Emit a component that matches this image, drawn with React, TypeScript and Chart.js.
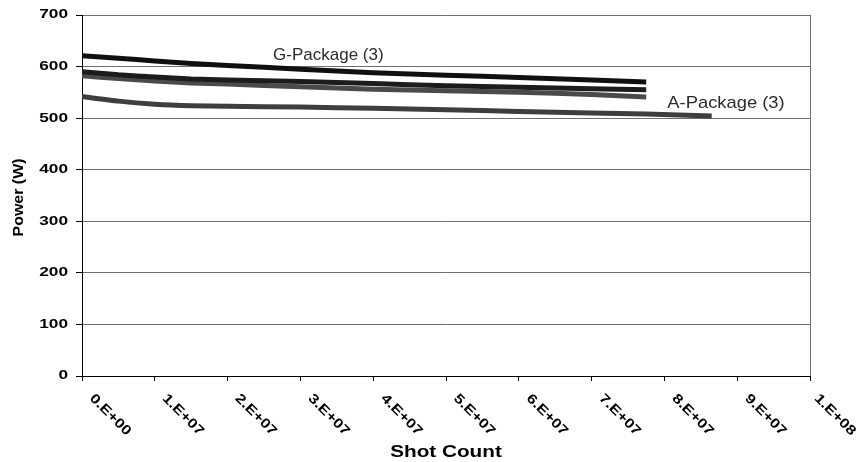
import { useEffect, useRef } from "react";
import { Chart, registerables } from "chart.js";

Chart.register(...registerables);

// Shot count (x) positions and power (W) values
const gTopX = [0, 5e6, 1e7, 1.5e7, 2e7, 3e7, 4e7, 5e7, 6e7, 7e7, 7.75e7];
const gTopY = [621, 616, 611, 606, 602, 595, 588, 583, 579, 574, 570];

const gMidX = [0, 5e6, 1e7, 1.5e7, 2e7, 3e7, 4e7, 5e7, 6e7, 7e7, 7.75e7];
const gMidY = [590, 584, 580, 576, 574, 571, 567, 563, 560, 557, 555];

const aUpX = [0, 5e6, 1e7, 1.5e7, 2e7, 3e7, 4e7, 5e7, 6e7, 7e7, 7.75e7];
const aUpY = [582, 577, 572, 568, 566, 561, 556, 553, 550, 546, 541];

const aLowX = [0, 5e6, 1e7, 1.5e7, 2e7, 3e7, 4e7, 5e7, 6e7, 7e7, 7.75e7, 8.65e7];
const aLowY = [542, 533, 527, 524, 523, 521.5, 519, 516.5, 513, 510, 508, 504];

const xTickLabels = [
  "0.E+00", "1.E+07", "2.E+07", "3.E+07", "4.E+07", "5.E+07",
  "6.E+07", "7.E+07", "8.E+07", "9.E+07", "1.E+08",
];
const yTickLabels = ["0", "100", "200", "300", "400", "500", "600", "700"];

const annotationTexts = ["G-Package (3)", "A-Package (3)"];
const annotationX = [2.625e7, 8.04e7];
const annotationY = [612.7, 520.3];

const xTitle = "Shot Count";
const yTitle = "Power (W)";

const FONT = "'Liberation Sans', Arial, sans-serif";

function toPoints(xs: number[], ys: number[]) {
  return xs.map((x, i) => ({ x, y: ys[i] }));
}

function drawText(
  ctx: CanvasRenderingContext2D,
  text: string,
  x: number,
  y: number,
  font: string,
  align: CanvasTextAlign,
  baseline: CanvasTextBaseline,
  rotate: number,
  sx: number,
  color: string
) {
  ctx.save();
  ctx.translate(x, y);
  ctx.rotate(rotate);
  ctx.scale(sx, 1);
  ctx.font = font;
  ctx.textAlign = align;
  ctx.textBaseline = baseline;
  ctx.fillStyle = color;
  ctx.fillText(text, 0, 0);
  ctx.restore();
}

const textPlugin = {
  id: "excelText",
  afterDraw(chart: any) {
    const ctx: CanvasRenderingContext2D = chart.ctx;
    const area = chart.chartArea;
    const xs = chart.scales.x;
    const ys = chart.scales.y;

    // plot-area right border
    ctx.save();
    ctx.strokeStyle = "#6e6e6e";
    ctx.lineWidth = 1;
    ctx.beginPath();
    ctx.moveTo(Math.round(area.right) + 0.5, area.top);
    ctx.lineTo(Math.round(area.right) + 0.5, area.bottom);
    ctx.stroke();
    ctx.restore();

    // y tick labels
    ys.ticks.forEach((t: any, i: number) => {
      const py = ys.getPixelForValue(t.value);
      const label = yTickLabels[i] ?? String(t.value);
      drawText(ctx, label, area.left - 14, py, `bold 12.5px ${FONT}`, "right", "middle", 0, 1.38, "#000");
    });

    // x tick labels, rotated 45deg clockwise, starting at the tick
    const xFont = `bold 13.5px ${FONT}`;
    const sx = 1.22;
    ctx.save();
    ctx.font = xFont;
    xs.ticks.forEach((t: any, i: number) => {
      const px = xs.getPixelForValue(t.value);
      const label = xTickLabels[i] ?? String(t.value);
      const w = ctx.measureText(label).width * sx;
      let startX = px + 7;
      const extent = startX + 0.7071 * (w + 10);
      if (extent > 858) startX -= extent - 858;
      drawText(ctx, label, startX, area.bottom + 23, xFont, "left", "alphabetic", Math.PI / 4, sx, "#000");
    });
    ctx.restore();

    // axis titles
    drawText(ctx, xTitle, (area.left + area.right) / 2, 456.5, `bold 17px ${FONT}`, "center", "alphabetic", 0, 1.22, "#000");
    drawText(ctx, yTitle, 23, (area.top + area.bottom) / 2 + 2, `bold 14px ${FONT}`, "center", "alphabetic", -Math.PI / 2, 1.14, "#000");

    // annotations
    annotationTexts.forEach((txt, i) => {
      const px = xs.getPixelForValue(annotationX[i]);
      const py = ys.getPixelForValue(annotationY[i]);
      drawText(ctx, txt, px, py, `17px ${FONT}`, "left", "alphabetic", 0, i === 0 ? 1.0 : 1.08, "#2b2b2b");
    });
  },
};

export default function App() {
  const ref = useRef<HTMLCanvasElement | null>(null);

  useEffect(() => {
    if (!ref.current) return;
    const chart = new Chart(ref.current, {
      type: "line",
      data: {
        datasets: [
          { data: toPoints(gTopX, gTopY), borderColor: "#101010", borderWidth: 5 },
          { data: toPoints(gMidX, gMidY), borderColor: "#1c1c1c", borderWidth: 5 },
          { data: toPoints(aUpX, aUpY), borderColor: "#4a4a4a", borderWidth: 5 },
          { data: toPoints(aLowX, aLowY), borderColor: "#3e3e3e", borderWidth: 5 },
        ].map((d) => ({ ...d, pointRadius: 0, fill: false, tension: 0.2 })),
      },
      options: {
        responsive: false,
        animation: false,
        events: [],
        layout: { padding: { left: 0, top: 15, right: 52, bottom: 0 } },
        plugins: { legend: { display: false }, tooltip: { enabled: false } },
        scales: {
          x: {
            type: "linear",
            min: 0,
            max: 1e8,
            ticks: { stepSize: 1e7, color: "rgba(0,0,0,0)", maxRotation: 0, font: { size: 10 } },
            grid: { drawOnChartArea: false, drawTicks: true, tickLength: 5, tickColor: "#000" },
            border: { color: "#000", width: 1 },
            afterFit: (s: any) => {
              s.height = 86;
            },
          },
          y: {
            type: "linear",
            min: 0,
            max: 700,
            ticks: { stepSize: 100, color: "rgba(0,0,0,0)", font: { size: 10 } },
            grid: { color: "#6e6e6e", tickLength: 6, tickColor: "#000" },
            border: { color: "#000", width: 1 },
            afterFit: (s: any) => {
              s.width = 82;
            },
          },
        },
      },
      plugins: [textPlugin],
    } as any);
    return () => chart.destroy();
  }, []);

  return (
    <div style={{ position: "absolute", left: 0, top: 0, width: 862, height: 462, background: "#fff" }}>
      <canvas ref={ref} width={862} height={462} />
    </div>
  );
}
